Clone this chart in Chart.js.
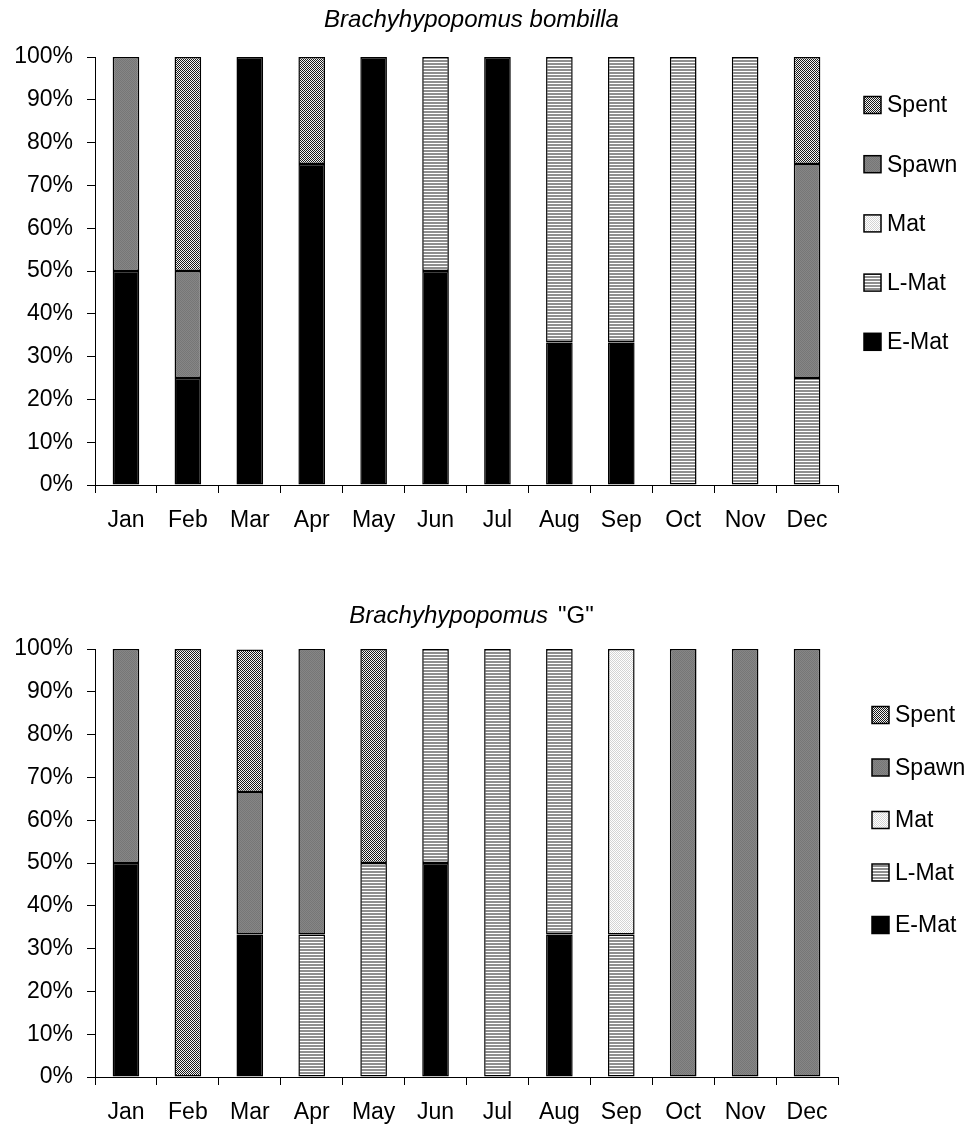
<!DOCTYPE html>
<html>
<head>
<meta charset="utf-8">
<script src="https://cdn.jsdelivr.net/npm/chart.js@4.4.1/dist/chart.umd.min.js"></script>
<style>
  body { margin: 0; background: #fff; width: 974px; height: 1128px; position: relative; overflow: hidden; }
  canvas { position: absolute; left: 0; }
</style>
</head>
<body>
<canvas id="bombilla" width="974" height="564" style="top:0"></canvas>
<canvas id="speciesG" width="974" height="564" style="top:592px"></canvas>
<script>
const months = ["Jan", "Feb", "Mar", "Apr", "May", "Jun", "Jul", "Aug", "Sep", "Oct", "Nov", "Dec"];
const yTicks = [0, 10, 20, 30, 40, 50, 60, 70, 80, 90, 100];

// B. bombilla, % of females per maturity stage
const bombillaEMat  = [50, 25, 100, 75, 100, 50, 100, 33.3, 33.3, 0, 0, 0];
const bombillaLMat  = [0, 0, 0, 0, 0, 50, 0, 66.7, 66.7, 100, 100, 25];
const bombillaMat   = [0, 0, 0, 0, 0, 0, 0, 0, 0, 0, 0, 0];
const bombillaSpawn = [50, 25, 0, 0, 0, 0, 0, 0, 0, 0, 0, 50];
const bombillaSpent = [0, 50, 0, 25, 0, 0, 0, 0, 0, 0, 0, 25];

// B. "G"
const gEMat  = [50, 0, 33.3, 0, 0, 50, 0, 33.3, 0, 0, 0, 0];
const gLMat  = [0, 0, 0, 33.3, 50, 50, 100, 66.7, 33.3, 0, 0, 0];
const gMat   = [0, 0, 0, 0, 0, 0, 0, 0, 66.7, 0, 0, 0];
const gSpawn = [50, 0, 33.3, 66.7, 0, 0, 0, 0, 0, 100, 100, 100];
const gSpent = [0, 100, 33.3, 0, 50, 0, 0, 0, 0, 0, 0, 0];

const FONT = '"Liberation Sans", Arial, sans-serif';

function tile(w, h, paint) {
  const c = document.createElement("canvas");
  c.width = w; c.height = h;
  const g = c.getContext("2d");
  paint(g);
  return g.createPattern(c, "repeat");
}

const fills = {
  "E-Mat": "#000",
  "L-Mat": tile(1, 3, g => {
    g.fillStyle = "#fff"; g.fillRect(0, 0, 1, 3);
    g.fillStyle = "#8e8e8e"; g.fillRect(0, 0, 1, 2);
  }),
  "Mat": tile(2, 2, g => {
    g.fillStyle = "#fff"; g.fillRect(0, 0, 2, 2);
    g.fillStyle = "#d4d4d4"; g.fillRect(0, 0, 1, 1); g.fillRect(1, 1, 1, 1);
  }),
  "Spawn": tile(2, 2, g => {
    g.fillStyle = "#868686"; g.fillRect(0, 0, 2, 2);
    g.fillStyle = "#767676"; g.fillRect(0, 0, 1, 1); g.fillRect(1, 1, 1, 1);
  }),
  "Spent": tile(2, 2, g => {
    g.fillStyle = "#f4f4f4"; g.fillRect(0, 0, 2, 2);
    g.fillStyle = "#1a1a1a"; g.fillRect(0, 0, 1, 1); g.fillRect(1, 1, 1, 1);
  }),
};

function ds(label, data) {
  return {
    label, data,
    backgroundColor: fills[label],
    borderColor: "#000",
    borderWidth: 1.5,
    borderSkipped: false,
    barPercentage: 0.43,
    categoryPercentage: 1,
  };
}

// legend on the right, top entry = last dataset
const sideLegend = {
  id: "sideLegend",
  afterDraw(chart, args, opts) {
    const ctx = chart.ctx;
    const sets = chart.data.datasets;
    ctx.save();
    ctx.font = "23px " + FONT;
    ctx.textBaseline = "middle";
    ctx.textAlign = "left";
    for (let i = sets.length - 1, row = 0; i >= 0; i--, row++) {
      const y = opts.top + row * opts.spacing;
      ctx.fillStyle = sets[i].backgroundColor;
      ctx.fillRect(opts.x, y - 8.5, 17, 17);
      ctx.strokeStyle = "#000";
      ctx.lineWidth = 1.5;
      ctx.strokeRect(opts.x, y - 8.5, 17, 17);
      ctx.fillStyle = "#000";
      ctx.fillText(sets[i].label, opts.x + 23, y + 1);
    }
    ctx.restore();
  }
};

// title with an italic genus name and optional plain suffix
const mixedTitle = {
  id: "mixedTitle",
  afterDraw(chart, args, opts) {
    const ctx = chart.ctx;
    const area = chart.chartArea;
    ctx.save();
    ctx.textBaseline = "alphabetic";
    ctx.fillStyle = "#000";
    const it = "italic 24px " + FONT;
    const pl = "24px " + FONT;
    const gap = opts.plain ? 10 : 0;
    ctx.font = it;
    const w1 = ctx.measureText(opts.italic).width;
    ctx.font = pl;
    const w2 = opts.plain ? ctx.measureText(opts.plain).width : 0;
    const x = (area.left + area.right) / 2 - (w1 + gap + w2) / 2 + 5;
    ctx.textAlign = "left";
    ctx.font = it;
    ctx.fillText(opts.italic, x, opts.y);
    if (opts.plain) {
      ctx.font = pl;
      ctx.fillText(opts.plain, x + w1 + gap, opts.y);
    }
    ctx.restore();
  }
};

function makeChart(id, series, title, legend) {
  return new Chart(document.getElementById(id), {
    type: "bar",
    data: {
      labels: months,
      datasets: [
        ds("E-Mat", series[0]),
        ds("L-Mat", series[1]),
        ds("Mat", series[2]),
        ds("Spawn", series[3]),
        ds("Spent", series[4]),
      ],
    },
    options: {
      responsive: false,
      animation: false,
      layout: { padding: { top: 57, right: 136, left: 0, bottom: 0 } },
      plugins: {
        legend: { display: false },
        tooltip: { enabled: false },
        mixedTitle: title,
        sideLegend: legend,
      },
      scales: {
        x: {
          stacked: true,
          grid: { offset: true, drawOnChartArea: false, drawTicks: true, tickLength: 8, color: "#000", lineWidth: 1 },
          border: { color: "#000", width: 1 },
          ticks: { color: "#000", font: { family: FONT, size: 23 }, padding: 14, maxRotation: 0, autoSkip: false },
          afterFit(scale) { scale.height = 79; },
        },
        y: {
          stacked: true,
          min: 0, max: 100,
          afterBuildTicks(scale) { scale.ticks = yTicks.map(v => ({ value: v })); },
          grid: { drawOnChartArea: false, drawTicks: true, tickLength: 8, color: "#000", lineWidth: 1 },
          border: { color: "#000", width: 1 },
          ticks: { color: "#000", font: { family: FONT, size: 23 }, padding: 14, callback: v => v + "%" },
          afterFit(scale) { scale.width = 95; },
        },
      },
    },
    plugins: [mixedTitle, sideLegend],
  });
}

makeChart("bombilla",
  [bombillaEMat, bombillaLMat, bombillaMat, bombillaSpawn, bombillaSpent],
  { italic: "Brachyhypopomus bombilla", y: 27 },
  { x: 864, top: 105, spacing: 59.2 });

makeChart("speciesG",
  [gEMat, gLMat, gMat, gSpawn, gSpent],
  { italic: "Brachyhypopomus", plain: '"G"', y: 31 },
  { x: 872, top: 123, spacing: 52.5 });
</script>
</body>
</html>
